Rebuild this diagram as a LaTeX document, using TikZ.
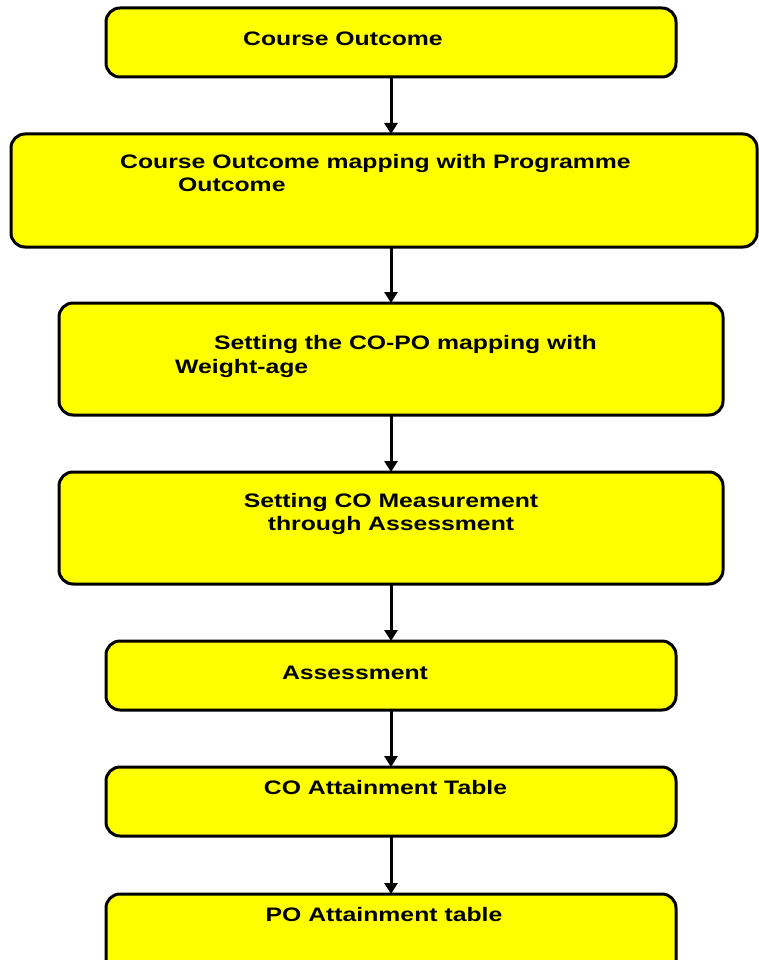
\documentclass[tikz,border=0pt]{standalone}
\usepackage{fontspec}
\setmainfont{Liberation Sans}
\newfontfamily\boxfont[FakeStretch=1.27]{Liberation Sans}
\usetikzlibrary{arrows.meta}
\definecolor{boxyellow}{RGB}{255,255,0}
\tikzset{
  flowbox/.style={draw=black, line width=3pt, fill=boxyellow, rounded corners=14pt, inner sep=0pt, outer sep=0pt},
  lbl/.style={inner sep=0pt, font=\boxfont\bfseries\fontsize{19.5}{24}\selectfont},
  arr/.style={line width=3pt, -{Triangle[width=13pt,length=11pt]}}
}
\begin{document}
\begin{tikzpicture}[x=1pt,y=-1pt]
\useasboundingbox (0,0) rectangle (759,960);
\fill[white] (0,0) rectangle (759,960);
% boxes
\node[flowbox, minimum width=570pt, minimum height=69pt] (b1) at (391,42.5) {};
\node[flowbox, minimum width=746pt, minimum height=113pt] (b2) at (384,190.5) {};
\node[flowbox, minimum width=664pt, minimum height=112pt] (b3) at (391,359) {};
\node[flowbox, minimum width=664pt, minimum height=112pt] (b4) at (391,528) {};
\node[flowbox, minimum width=570pt, minimum height=69pt] (b5) at (391,675.5) {};
\node[flowbox, minimum width=570pt, minimum height=69pt] (b6) at (391,801.5) {};
\node[flowbox, minimum width=570pt, minimum height=80pt] (b7) at (391,934) {};
% labels
\node[lbl, anchor=base west] (t1) at (243,46) {Course Outcome};
\node[lbl, anchor=base west] (t2a) at (120,169) {Course Outcome mapping with Programme};
\node[lbl, anchor=base west] (t2b) at (178,191) {Outcome};
\node[lbl, anchor=base west] (t3a) at (214,349) {Setting the CO-PO mapping with};
\node[lbl, anchor=base west] (t3b) at (175,373) {Weight-age};
\node[lbl, anchor=base] (t4a) at (391,507) {Setting CO Measurement};
\node[lbl, anchor=base] (t4b) at (391,530) {through Assessment};
\node[lbl, anchor=base] (t5) at (355,679) {Assessment};
\node[lbl, anchor=base] (t6) at (385.5,794) {CO Attainment Table};
\node[lbl, anchor=base] (t7) at (384,921) {PO Attainment table};
% arrows
\draw[arr] (b1.south) -- (b1.south |- b2.north);
\draw[arr] (b2.south -| b1.south) -- (b3.north);
\draw[arr] (b3.south) -- (b4.north);
\draw[arr] (b4.south) -- (b5.north);
\draw[arr] (b5.south) -- (b6.north);
\draw[arr] (b6.south) -- (b7.north);
\end{tikzpicture}
\end{document}
